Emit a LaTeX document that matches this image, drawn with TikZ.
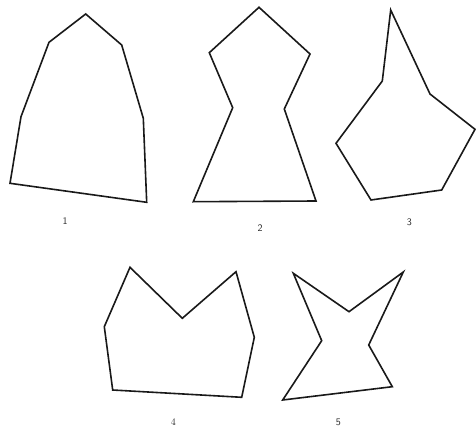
\documentclass[tikz,border=0pt]{standalone}
\begin{document}
\begin{tikzpicture}[x=1pt,y=-1pt,
  shape line/.style={line width=1.6pt,line join=miter,black!90},
  lbl/.style={font=\sffamily\normalsize,text=black!85,inner sep=0pt},
  lblserif/.style={font=\normalsize,text=black!85,inner sep=0pt}]
\useasboundingbox (0,0) rectangle (476,430);
% shape 1
\draw[shape line] (85.7,14) -- (121.7,45) -- (143.3,118.3) -- (146.7,202.3) -- (10,183.3) -- (21,116.7) -- (49,42.3) -- cycle;
\node[lbl] (l1) at (65,221) {1};
% shape 2
\draw[shape line] (259,7.3) -- (310,54) -- (284.3,109) -- (316,201) -- (193.3,201.7) -- (232.7,107.7) -- (209.3,52.7) -- cycle;
\node[lbl] (l2) at (260,228.5) {2};
% shape 3
\draw[shape line] (390.7,10) -- (430,94) -- (475,129.3) -- (441.7,190) -- (371,200) -- (336,143.3) -- (382.3,81) -- cycle;
\node[lbl] (l3) at (409.3,222.7) {3};
% shape 4
\draw[shape line] (130,267.3) -- (182.3,318.3) -- (236,271.7) -- (254.3,337.3) -- (241.7,397.3) -- (112.7,390) -- (104.3,326.7) -- cycle;
\node[lblserif] (l4) at (173.3,422.3) {4};
% shape 5
\draw[shape line] (293.3,273.3) -- (349,311.7) -- (403.3,272) -- (368.7,345) -- (392.3,386.7) -- (282.7,400) -- (321.7,340.7) -- cycle;
\node[lbl] (l5) at (338.3,422.3) {5};
\end{tikzpicture}
\end{document}
